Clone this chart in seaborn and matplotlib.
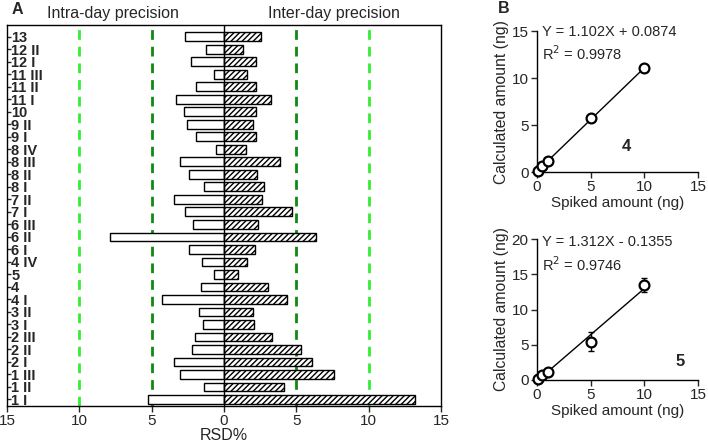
import numpy as np
import pandas as pd
import matplotlib
matplotlib.use("Agg")
import matplotlib.pyplot as plt
import seaborn as sns

# ---- data: panel A (RSD%) ----
compounds = ["13", "12 II", "12 I", "11 III", "11 II", "11 I", "10", "9 II", "9 I",
             "8 IV", "8 III", "8 II", "8 I", "7 II", "7 I", "6 III", "6 II", "6 I",
             "4 IV", "5", "4", "4 I", "3 II", "3 I", "2 III", "2 II", "2 I",
             "1 III", "1 II", "1 I"]
intra_rsd = [2.70, 1.27, 2.28, 0.71, 1.96, 3.34, 2.76, 2.53, 1.93,
             0.58, 3.02, 2.40, 1.36, 3.48, 2.67, 2.12, 7.86, 2.44,
             1.52, 0.71, 1.59, 4.26, 1.73, 1.43, 1.98, 2.23, 3.46,
             3.06, 1.38, 5.23]
inter_rsd = [2.58, 1.34, 2.21, 1.57, 2.19, 3.23, 2.21, 1.98, 2.21,
             1.50, 3.87, 2.26, 2.74, 2.65, 4.68, 2.33, 6.38, 2.14,
             1.61, 0.99, 3.04, 4.33, 1.98, 2.07, 3.34, 5.32, 6.08,
             7.58, 4.13, 13.20]
rsd_ticks = [-15, -10, -5, 0, 5, 10, 15]

# ---- data: panel B (recovery) ----
spiked = [0.1, 0.5, 1, 5, 10]
calc_4 = [0.15, 0.67, 1.20, 5.73, 11.04]
err_4 = [0.03, 0.05, 0.08, 0.15, 0.20]
calc_5 = [0.10, 0.71, 1.18, 5.45, 13.46]
err_5 = [0.05, 0.10, 0.15, 1.35, 1.00]
fit_4 = (1.102, 0.0874, 0.9978)
fit_5 = (1.312, -0.1355, 0.9746)

sns.set_style("ticks")
plt.rcParams['font.family'] = ['Liberation Sans', 'DejaVu Sans']
plt.rcParams['hatch.linewidth'] = 1.0

fig = plt.figure(figsize=(7.08, 4.46), dpi=100)

# ==========================================
# Panel A
# ==========================================
ax = fig.add_axes([0.0099, 0.0897, 0.613, 0.854])
df = pd.DataFrame({"compound": compounds,
                   "intra": -np.array(intra_rsd),
                   "inter": np.array(inter_rsd)})

sns.barplot(data=df, x="intra", y="compound", order=compounds, color="white",
            edgecolor="black", linewidth=1, width=0.7, ax=ax, saturation=1)
n_before = len(ax.patches)
sns.barplot(data=df, x="inter", y="compound", order=compounds, color="white",
            edgecolor="black", linewidth=1, width=0.7, ax=ax, saturation=1)
for p in ax.patches[n_before:]:
    p.set_hatch("//////")

for xv, col in [(-10, "#33ee33"), (10, "#33ee33"), (-5, "#118a11"), (5, "#118a11")]:
    ax.axvline(xv, color=col, lw=2, ls=(0, (3.5, 2.5)), zorder=0.5)
ax.axvline(0, color="black", lw=1, zorder=3)

ax.set_xlim(-15, 15)
ax.set_ylim(len(compounds) - 0.48, -0.93)
ax.set_xticks(rsd_ticks)
ax.set_xticklabels([str(abs(t)) for t in rsd_ticks], fontsize=11)
ax.set_xlabel("RSD%", fontsize=11.5, labelpad=0)
ax.set_ylabel("")
ax.tick_params(axis="x", direction="out", length=4, width=1, pad=2)
ax.tick_params(axis="y", direction="in", length=3, width=1, pad=-3)
for lab in ax.get_yticklabels():
    lab.set_horizontalalignment("left")
    lab.set_fontweight("bold")
    lab.set_fontsize(10.5)
for s in ax.spines.values():
    s.set_linewidth(1)
    s.set_color("black")

tr = ax.get_xaxis_transform()
ax.text(-7.7, 1.01, "Intra-day precision", transform=tr, ha="center", va="bottom", fontsize=11.5)
ax.text(7.6, 1.01, "Inter-day precision", transform=tr, ha="center", va="bottom", fontsize=11.5)
fig.text(0.017, 0.995, "A", fontweight="bold", fontsize=11.5, va="top")

# ==========================================
# Panel B
# ==========================================
def recovery_panel(axb, calc, err, fit, ymax, ystep, tag, tag_xy, eq_y):
    slope, icpt, r2 = fit
    xs = np.array([0, max(spiked)])
    sns.lineplot(x=xs, y=slope * xs + icpt, color="black", lw=1, ax=axb)
    axb.errorbar(spiked, calc, yerr=err, fmt="none", ecolor="black", elinewidth=1,
                 capsize=2, capthick=1, clip_on=False, zorder=3)
    sns.scatterplot(x=spiked, y=calc, marker="o", s=50, facecolor="white",
                    edgecolor="black", linewidth=1.6, ax=axb, zorder=4, clip_on=False)
    axb.set_xlim(0, 15)
    axb.set_ylim(0, ymax)
    axb.set_xticks([0, 5, 10, 15])
    axb.set_yticks(np.arange(0, ymax + 1, ystep))
    axb.tick_params(labelsize=11, length=4, width=1, pad=2)
    sns.despine(ax=axb)
    for s in axb.spines.values():
        s.set_linewidth(1)
        s.set_color("black")
    axb.set_xlabel("Spiked amount (ng)", fontsize=11, labelpad=1)
    axb.set_ylabel("Calculated amount (ng)", fontsize=11.3, labelpad=2)
    sign = "+" if icpt >= 0 else "-"
    axb.text(0.5, eq_y[0], f"Y = {slope:.3f}X {sign} {abs(icpt):.4f}",
             fontsize=10.5, va="center", ha="left")
    axb.text(0.5, eq_y[1], f"R$^2$ = {r2:.4f}", fontsize=10.5, va="center", ha="left")
    axb.text(tag_xy[0], tag_xy[1], tag, fontsize=12, fontweight="bold",
             ha="center", va="center")


ax_b1 = fig.add_axes([0.7585, 0.614, 0.2274, 0.316])
recovery_panel(ax_b1, calc_4, err_4, fit_4, 15, 5, "4", (8.3, 2.7), (14.9, 12.6))

ax_b2 = fig.add_axes([0.7585, 0.148, 0.2274, 0.316])
recovery_panel(ax_b2, calc_5, err_5, fit_5, 20, 5, "5", (13.3, 2.6), (19.6, 16.4))

fig.text(0.703, 0.997, "B", fontweight="bold", fontsize=11.5, va="top")

fig.savefig("out.png", dpi=100)
